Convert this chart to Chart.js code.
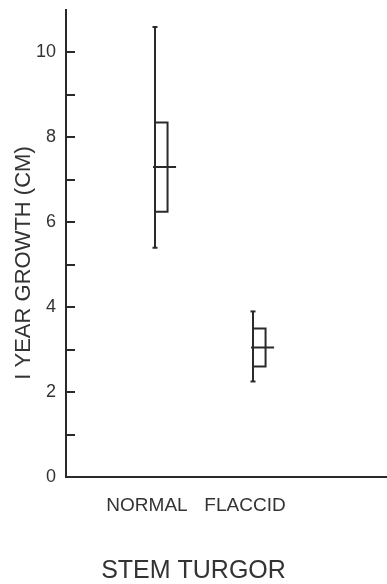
<!DOCTYPE html>
<html lang="en">
<head>
  <meta charset="UTF-8">
  <title>Stem turgor vs 1 year growth</title>
  <script src="https://cdn.jsdelivr.net/npm/chart.js"></script>
  <style>
    body { margin: 0; background: #fff; }
    canvas { display: block; }
  </style>
</head>
<body>
  <canvas id="growthChart" width="387" height="584"></canvas>
  <script>
    const categories = ['NORMAL', 'FLACCID'];
    const rangeMin = [5.4, 2.25];
    const rangeMax = [10.6, 3.9];
    const boxLow = [6.25, 2.6];
    const boxHigh = [8.35, 3.5];
    const means = [7.3, 3.05];
    const yLabels = ['0', '2', '4', '6', '8', '10'];

    const ink = '#2a2a2a';
    const font = '"Liberation Sans", Arial, sans-serif';
    const boxW = 0.128;   // box drawn to the right of the range line
    const meanW = 0.215;

    // vertical range lines, box outlines and mean bars, one segment set per category
    const rangePts = [], boxPts = [], meanPts = [];
    categories.forEach((c, i) => {
      const x = i + 1;
      rangePts.push({x: x, y: rangeMin[i]}, {x: x, y: rangeMax[i]}, {x: x, y: null});
      boxPts.push({x: x, y: boxLow[i]}, {x: x + boxW, y: boxLow[i]},
                  {x: x + boxW, y: boxHigh[i]}, {x: x, y: boxHigh[i]}, {x: x, y: null});
      meanPts.push({x: x - 0.02, y: means[i]}, {x: x + meanW, y: means[i]}, {x: x, y: null});
    });

    const yTitle = {
      id: 'yTitle',
      afterDraw(chart) {
        const ctx = chart.ctx;
        ctx.save();
        ctx.translate(24, 263);
        ctx.rotate(-Math.PI / 2);
        ctx.font = '22px ' + font;
        ctx.fillStyle = '#333';
        ctx.textAlign = 'center';
        ctx.textBaseline = 'middle';
        ctx.fillText('I YEAR GROWTH (CM)', 0, 0);
        ctx.restore();
      }
    };

    const line = { type: 'line', borderColor: ink, borderWidth: 2, pointRadius: 0, fill: false, tension: 0, spanGaps: false, clip: false };

    new Chart(document.getElementById('growthChart'), {
      type: 'line',
      data: {
        datasets: [
          Object.assign({}, line, { data: rangePts, pointStyle: 'line', pointRadius: 2.5, pointBorderColor: ink, pointBorderWidth: 2 }),
          Object.assign({}, line, { data: boxPts }),
          Object.assign({}, line, { data: meanPts })
        ]
      },
      options: {
        responsive: false,
        animation: false,
        layout: { autoPadding: false, padding: { top: 10, right: 0, bottom: 0, left: 0 } },
        plugins: {
          legend: { display: false },
          tooltip: { enabled: false },
          title: {
            display: true,
            position: 'bottom',
            text: 'STEM TURGOR',
            color: '#333',
            font: { family: font, size: 25, weight: 'normal', lineHeight: 1 },
            padding: { top: 10, bottom: 0 }
          }
        },
        scales: {
          x: {
            type: 'linear',
            min: 0.092,
            max: 3.367,
            afterBuildTicks: s => { s.ticks = categories.map((c, i) => ({ value: i + 1 })); },
            afterFit: s => { s.height = 72; s.paddingLeft = 0; s.paddingRight = 0; },
            ticks: {
              callback: (v, i) => categories[i],
              color: '#333',
              font: { family: font, size: 19 },
              padding: 17,
              labelOffset: -8,
              maxRotation: 0
            },
            grid: { display: true, drawOnChartArea: false, drawTicks: false },
            border: { display: true, color: ink, width: 2 }
          },
          y: {
            min: 0,
            max: 11,
            afterBuildTicks: s => { s.ticks = s.ticks.filter(t => t.value <= 10); },
            afterFit: s => { s.width = 66; s.paddingTop = 0; s.paddingBottom = 0; },
            ticks: {
              stepSize: 1,
              callback: v => (v % 2 === 0 ? yLabels[v / 2] : ''),
              color: '#333',
              font: { family: font, size: 18 },
              padding: 19
            },
            grid: { drawOnChartArea: false, drawTicks: true, tickLength: -9, color: ink, lineWidth: 2 },
            border: { display: true, color: ink, width: 2 }
          }
        }
      },
      plugins: [yTitle]
    });
  </script>
</body>
</html>
